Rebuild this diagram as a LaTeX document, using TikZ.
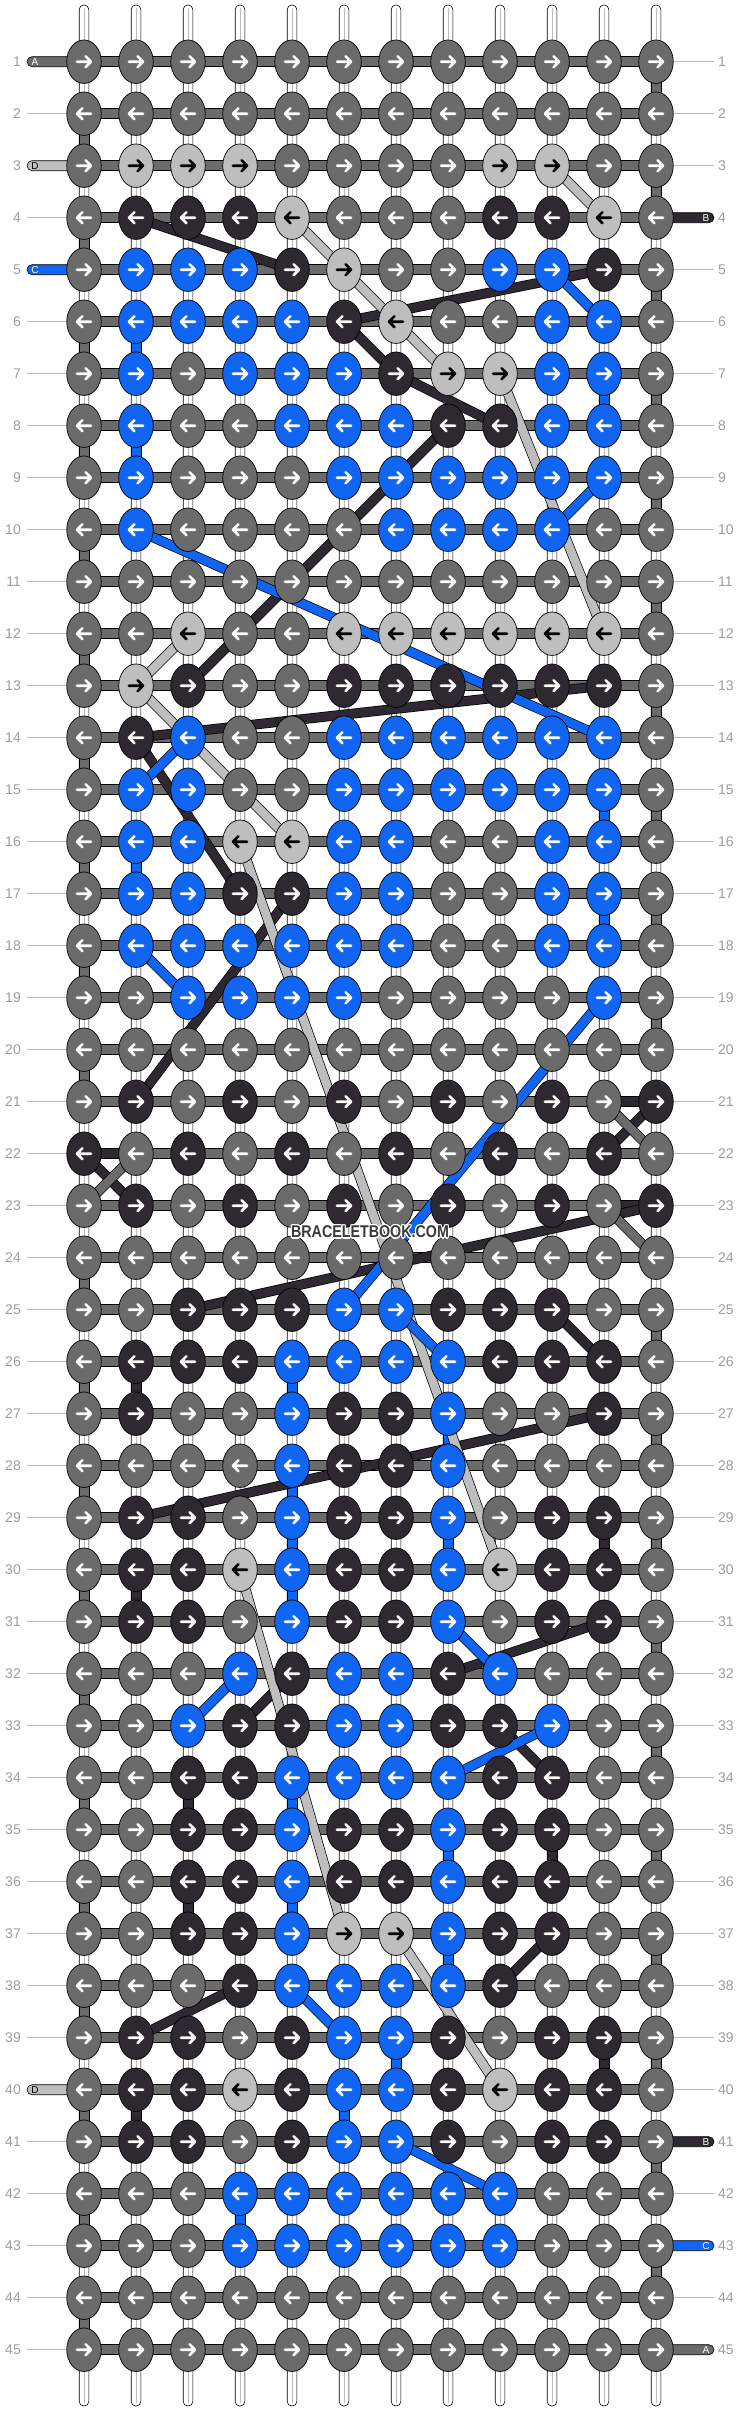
\documentclass[tikz,border=0pt]{standalone}
\usepackage{fontspec}
\setmainfont{Liberation Sans}
\usetikzlibrary{shapes.geometric}
\definecolor{cG}{HTML}{6B6B6B}
\definecolor{cK}{HTML}{2E2830}
\definecolor{cL}{HTML}{BEBEBE}
\definecolor{cB}{HTML}{1066F2}
\colorlet{aG}{white}\colorlet{aK}{white}\colorlet{aB}{white}\colorlet{aL}{black}
\definecolor{labtxt}{HTML}{9C9C9C}
\definecolor{labline}{HTML}{BBBBBB}
\definecolor{wmark}{HTML}{3A3A3A}
\pgfdeclarelayer{l0}\pgfdeclarelayer{l1}\pgfdeclarelayer{l2}\pgfdeclarelayer{l3}
\pgfsetlayers{l0,l1,l2,l3,main}
\begin{document}
\begin{tikzpicture}[x=1pt,y=-1pt,
  knot/.style={ellipse, draw=black, line width=0.7pt, minimum width=34.5pt, minimum height=43.5pt, inner sep=0pt},
  arr/.style={line width=2.6pt, line cap=round, line join=round},
  hbar/.style={fill=cG, draw=black, line width=0.6pt},
  vcon/.style={draw=black, line width=0.6pt},
  numtxt/.style={text=labtxt, font=\fontsize{14}{14}\selectfont, inner sep=0pt},
  lettxt/.style={font=\fontsize{10}{10}\selectfont, inner sep=0pt},
  wmtxt/.style={font=\bfseries\fontsize{17}{17}\selectfont, inner sep=0pt}
]
\useasboundingbox (0,0) rectangle (740,2412);
% knots
\foreach \rowlist [count=\r] in {
 {G,G,G,G,G,G,G,G,G,G,G,G},
 {G,G,G,G,G,G,G,G,G,G,G,G},
 {G,L,L,L,G,G,G,G,L,L,G,G},
 {G,K,K,K,L,G,G,G,K,K,L,G},
 {G,B,B,B,K,L,G,G,B,B,K,G},
 {G,B,B,B,B,K,L,G,G,B,B,G},
 {G,B,G,B,B,B,K,L,L,B,B,G},
 {G,B,G,G,B,B,B,K,K,B,B,G},
 {G,B,G,G,G,B,B,B,B,B,B,G},
 {G,B,G,G,G,G,B,B,B,B,G,G},
 {G,G,G,G,G,G,G,G,G,G,G,G},
 {G,G,L,G,G,L,L,L,L,L,L,G},
 {G,L,K,G,G,K,K,K,K,K,K,G},
 {G,K,B,G,G,B,B,B,B,B,B,G},
 {G,B,B,G,G,B,B,B,B,B,B,G},
 {G,B,B,L,L,B,B,G,G,B,B,G},
 {G,B,B,K,K,B,B,G,G,B,B,G},
 {G,B,B,B,B,B,B,G,G,B,B,G},
 {G,G,B,B,B,B,G,G,G,G,B,G},
 {G,G,G,G,G,G,G,G,G,G,G,G},
 {G,K,G,K,G,K,G,K,G,K,G,K},
 {K,G,K,G,K,G,K,G,K,G,K,G},
 {G,K,G,K,G,K,G,K,G,K,G,K},
 {G,G,G,G,G,G,G,G,G,G,G,G},
 {G,G,K,K,K,B,B,K,K,K,G,G},
 {G,K,K,K,B,B,B,B,K,K,K,G},
 {G,K,G,G,B,K,K,B,G,G,K,G},
 {G,G,G,G,B,K,K,B,G,G,G,G},
 {G,K,K,G,B,K,K,B,G,K,K,G},
 {G,K,K,L,B,K,K,B,L,K,K,G},
 {G,K,K,G,B,K,K,B,G,K,K,G},
 {G,G,G,B,K,B,B,K,B,G,G,G},
 {G,G,B,K,K,B,B,K,K,B,G,G},
 {G,G,K,K,B,B,B,B,K,K,G,G},
 {G,G,K,K,B,K,K,B,K,K,G,G},
 {G,G,K,K,B,K,K,B,K,K,G,G},
 {G,G,K,K,B,L,L,B,K,K,G,G},
 {G,G,G,K,B,B,B,B,K,G,G,G},
 {G,K,K,G,K,B,B,K,G,K,K,G},
 {G,K,K,L,K,B,B,K,L,K,K,G},
 {G,K,K,G,K,B,B,K,G,K,K,G},
 {G,G,G,B,B,B,B,B,B,G,G,G},
 {G,G,G,B,B,B,B,B,B,G,G,G},
 {G,G,G,G,G,G,G,G,G,G,G,G},
 {G,G,G,G,G,G,G,G,G,G,G,G}}{
  \foreach \col [count=\c] in \rowlist {
    \pgfmathsetmacro\xx{84+52*(\c-1)}
    \pgfmathsetmacro\yy{61.7+52*(\r-1)}
    \pgfmathsetmacro\d{2*isodd(\r)-1}
    \node[knot, fill=c\col] (k-\r-\c) at (\xx,\yy) {};
    \draw[arr, draw=a\col, shift={(\xx,\yy)}] ({-7*(\d)},0) -- ({7*(\d)},0) ({1.6*(\d)},-5.5) -- ({7*(\d)},0) -- ({1.6*(\d)},5.5);
  }
}
% base strings
\begin{pgfonlayer}{l0}
\foreach \c in {1,...,12}{
  \pgfmathsetmacro\xx{84+52*(\c-1)}
  \coordinate (st-\c) at (\xx,5);
  \coordinate (sb-\c) at (\xx,2406);
  \draw[fill=white, draw=black, line width=0.6pt, rounded corners=4.5pt] ([xshift=-4.8pt]st-\c) rectangle ([xshift=4.8pt]sb-\c);
  \draw[labline, line width=0.7pt] ([yshift=-3pt]st-\c) -- ([yshift=3pt]sb-\c);
}
\end{pgfonlayer}
% rows bars and vertical connectors
\begin{pgfonlayer}{l1}
\foreach \r in {1,...,45}{
  \path[hbar] ([yshift=5pt]k-\r-1.center) rectangle ([yshift=-5pt]k-\r-12.center);
}
\foreach \r/\c/\cc [evaluate=\r as \rr using int(\r+1)] in {
  1/12/G,3/12/G,5/12/G,7/12/G,9/12/G,11/12/G,13/12/G,15/12/G,17/12/G,19/12/G,
  25/12/G,27/12/G,29/12/G,31/12/G,33/12/G,35/12/G,37/12/G,39/12/G,41/12/G,43/12/G,
  2/1/G,4/1/G,6/1/G,8/1/G,10/1/G,12/1/G,14/1/G,16/1/G,18/1/G,20/1/G,
  24/1/G,26/1/G,28/1/G,30/1/G,32/1/G,34/1/G,36/1/G,38/1/G,40/1/G,42/1/G,44/1/G,
  6/2/B,8/2/B,7/11/B,15/11/B,16/2/B,17/11/B,26/5/B,27/8/B,28/5/B,29/5/B,29/8/B,30/5/B,
  34/5/B,35/8/B,36/5/B,37/8/B,39/7/B,40/6/B,42/4/B,
  26/2/K,29/11/K,30/2/K,34/3/K,35/10/K,36/3/K,39/11/K,40/2/K}{
  \path[vcon, fill=c\cc] ([xshift=-5pt,yshift=3pt]k-\r-\c.south) rectangle ([xshift=5pt,yshift=-3pt]k-\rr-\c.north);
}
\foreach \r/\ca/\cb in {21/11/12,22/1/2,23/11/12}{
  \path[vcon, fill=cK] ([yshift=5pt]k-\r-\ca.center) rectangle ([yshift=-5pt]k-\r-\cb.center);
}
\end{pgfonlayer}
% diagonal strings
\begin{pgfonlayer}{l2}
\foreach \ra/\ca/\rb/\cb/\cc in {
  4/2/5/5/K, 5/11/6/6/K, 6/6/7/7/K, 7/7/8/9/K, 8/8/13/3/K, 13/11/14/2/K,
  14/2/17/4/K, 17/5/21/2/K, 21/12/22/11/K, 22/1/23/2/K, 23/12/25/3/K,
  25/10/26/11/K, 27/11/29/2/K, 31/11/32/8/K, 32/5/33/4/K, 33/9/34/10/K,
  37/10/38/9/K, 38/4/39/2/K,
  3/10/4/11/L, 4/5/5/6/L, 5/6/6/7/L, 6/7/7/8/L, 7/9/12/11/L, 12/3/13/2/L,
  13/2/16/5/L, 16/4/30/9/L, 30/4/37/6/L, 37/7/40/9/L,
  5/10/6/11/B, 9/11/10/10/B, 10/2/14/11/B, 14/3/15/2/B, 18/2/19/3/B,
  19/11/25/6/B, 25/7/26/8/B, 31/8/32/9/B, 32/4/33/3/B, 33/10/34/8/B,
  38/5/39/6/B, 41/7/42/9/B,
  21/11/22/12/G, 22/2/23/1/G, 23/11/24/12/G}{
  \draw[black, line width=10pt] (k-\ra-\ca.center) -- (k-\rb-\cb.center);
  \draw[c\cc, line width=8.6pt] (k-\ra-\ca.center) -- (k-\rb-\cb.center);
}
\end{pgfonlayer}
% row labels
\begin{pgfonlayer}{l3}
\foreach \r in {1,...,45}{
  \pgfmathsetmacro\yy{61.7+52*(\r-1)}
  \coordinate (ll-\r) at (27,\yy);
  \coordinate (rl-\r) at (714,\yy);
  \draw[labline, line width=1pt] (ll-\r) -- (k-\r-1.west);
  \draw[labline, line width=1pt] (k-\r-12.east) -- (rl-\r);
  \node[numtxt, anchor=east] (nl-\r) at (21,\yy) {\r};
  \node[numtxt, anchor=west] (nr-\r) at (718,\yy) {\r};
}
\foreach \r/\lt/\cc/\tc in {1/A/G/white, 3/D/L/black, 5/C/B/white, 40/D/L/black}{
  \path[draw=black, line width=0.6pt, fill=c\cc, rounded corners=5pt] ([yshift=5pt]ll-\r) rectangle ([yshift=-5pt]k-\r-1.center);
  \node[lettxt, text=\tc] (lab-l-\r) at ([xshift=8pt]ll-\r) {\lt};
}
\foreach \r/\lt/\cc/\tc in {4/B/K/white, 41/B/K/white, 43/C/B/white, 45/A/G/white}{
  \path[draw=black, line width=0.6pt, fill=c\cc, rounded corners=5pt] ([yshift=5pt]k-\r-12.center) rectangle ([yshift=-5pt]rl-\r);
  \node[lettxt, text=\tc] (lab-r-\r) at ([xshift=-8pt]rl-\r) {\lt};
}
\end{pgfonlayer}
% watermark
\foreach \dx/\dy [count=\i] in {-1.2/0,1.2/0,0/-1.2,0/1.2,-0.9/-0.9,0.9/0.9,-0.9/0.9,0.9/-0.9}{
  \node[wmtxt, text=white] (wmh-\i) at (370+\dx,1232+\dy) {\scalebox{0.84}[1]{BRACELETBOOK.COM}};
}
\node[wmtxt, text=wmark] (wm) at (370,1232) {\scalebox{0.84}[1]{BRACELETBOOK.COM}};
\end{tikzpicture}
\end{document}
